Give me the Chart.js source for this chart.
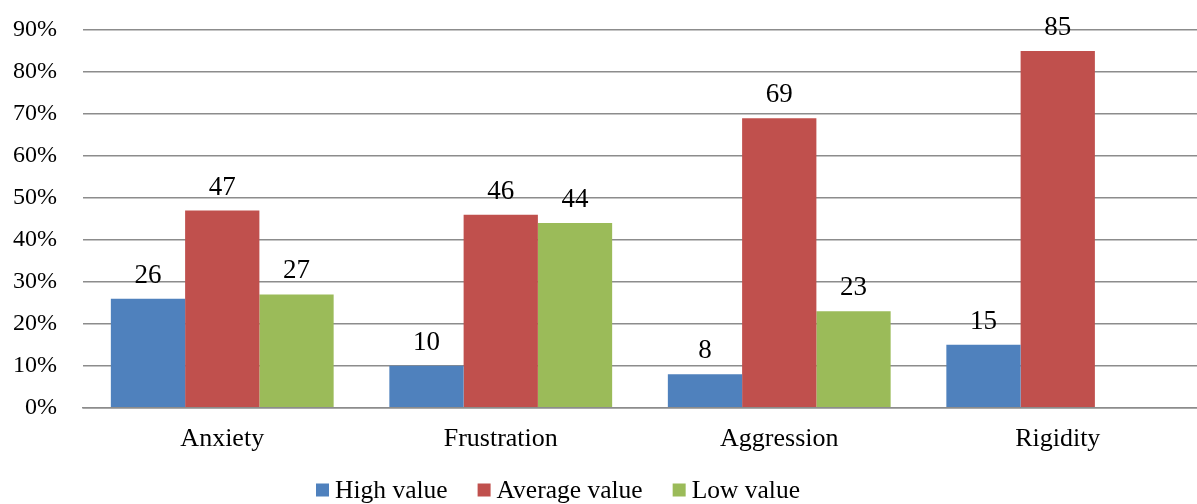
<!DOCTYPE html>
<html>
<head>
<meta charset="utf-8">
<script src="https://cdn.jsdelivr.net/npm/chart.js@4/dist/chart.umd.min.js"></script>
<style>
  html, body { margin: 0; padding: 0; background: #fff; }
  #wrap { width: 1197px; height: 504px; position: relative; }
</style>
</head>
<body>
<div id="wrap"><canvas id="c" width="1197" height="504"></canvas></div>
<script>
// Scale categories and the three series (percent of respondents)
const categories = ['Anxiety', 'Frustration', 'Aggression', 'Rigidity'];
const highValue = [26, 10, 8, 15];
const averageValue = [47, 46, 69, 85];
const lowValue = [27, 44, 23, null];
const seriesNames = ['High value', 'Average value', 'Low value'];
const yTicks = [0, 10, 20, 30, 40, 50, 60, 70, 80, 90];

const colors = ['#4F81BD', '#C0504D', '#9BBB59'];
const FONT = "'Liberation Serif', 'Times New Roman', serif";
const GRID = '#8c8c8c';

// Value labels above each bar
const valueLabels = {
  id: 'valueLabels',
  afterDatasetsDraw(chart) {
    const ctx = chart.ctx;
    ctx.save();
    ctx.font = '27px ' + FONT;
    ctx.fillStyle = '#000';
    ctx.textAlign = 'center';
    ctx.textBaseline = 'alphabetic';
    chart.data.datasets.forEach((ds, i) => {
      const meta = chart.getDatasetMeta(i);
      meta.data.forEach((bar, j) => {
        const v = ds.data[j];
        if (v === null || v === undefined) return;
        ctx.fillText(String(v), bar.x, bar.y - 16);
      });
    });
    ctx.restore();
  }
};

// Legend row under the axis: small square swatch followed by the series name
const bottomLegend = {
  id: 'bottomLegend',
  afterDraw(chart) {
    const ctx = chart.ctx;
    ctx.save();
    ctx.font = '25.5px ' + FONT;
    ctx.textBaseline = 'middle';
    ctx.textAlign = 'left';
    const box = 13, gap = 6, spacing = 30;
    const items = chart.data.datasets.map(ds => ({
      label: ds.label, color: ds.backgroundColor, w: box + gap + ctx.measureText(ds.label).width
    }));
    const total = items.reduce((s, it) => s + it.w, 0) + spacing * (items.length - 1);
    const cy = 490;
    let x = 558 - total / 2;
    items.forEach(it => {
      ctx.fillStyle = it.color;
      ctx.fillRect(x, cy - box / 2, box, box);
      ctx.fillStyle = '#000';
      ctx.fillText(it.label, x + box + gap, cy + 1);
      x += it.w + spacing;
    });
    ctx.restore();
  }
};

const datasets = [highValue, averageValue, lowValue].map((vals, i) => ({
  label: seriesNames[i],
  data: vals,
  backgroundColor: colors[i],
  borderWidth: 0,
  categoryPercentage: 0.8,
  barPercentage: 1.0
}));

new Chart(document.getElementById('c'), {
  type: 'bar',
  data: { labels: categories, datasets },
  options: {
    responsive: false,
    animation: false,
    devicePixelRatio: 1,
    layout: { padding: { top: 30, right: 0, left: 0, bottom: 33 } },
    plugins: {
      legend: { display: false },
      tooltip: { enabled: false }
    },
    scales: {
      x: {
        grid: { display: false, drawTicks: false },
        border: { display: true, color: GRID, width: 1.5 },
        ticks: { color: '#000', font: { family: FONT, size: 26 }, padding: 16, maxRotation: 0 }
      },
      y: {
        min: 0,
        max: 90,
        afterBuildTicks(scale) { scale.ticks = yTicks.map(v => ({ value: v })); },
        afterFit(scale) { scale.width = 83; },
        // invisible tick marks keep the labels clear of the plot edge
        grid: { color: GRID, lineWidth: 1.5, drawTicks: true, tickLength: 26, tickColor: 'rgba(0,0,0,0)' },
        border: { display: false },
        ticks: {
          color: '#000',
          font: { family: FONT, size: 24 },
          padding: 0,
          callback: v => v + '%'
        }
      }
    }
  },
  plugins: [valueLabels, bottomLegend]
});
</script>
</body>
</html>
